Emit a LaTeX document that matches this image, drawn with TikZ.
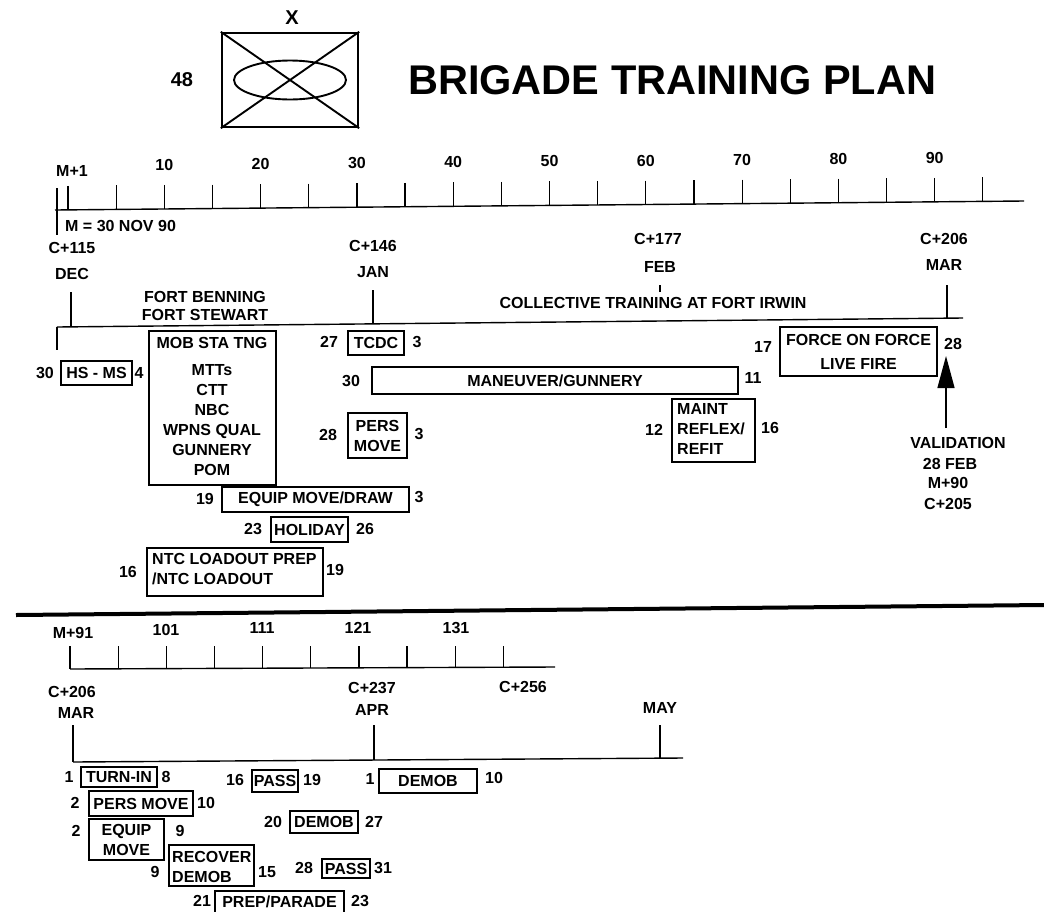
\documentclass[tikz,border=0pt]{standalone}
\usepackage{fontspec}
\setmainfont{Liberation Sans}
\usetikzlibrary{arrows.meta}
\begin{document}
\begin{tikzpicture}[x=1pt,y=-1pt,
  lbl/.style={font=\fontsize{16}{20}\selectfont\bfseries, inner sep=0pt},
  tb/.style={draw, line width=1.2pt, inner sep=0pt, font=\fontsize{16}{20}\selectfont\bfseries},
  ax/.style={line width=1.4pt},
  tk/.style={line width=1.2pt},
]
\useasboundingbox[fill=white] (0,0) rectangle (1044,911);

% ---------- header ----------
\node[draw, line width=2.4pt, minimum width=136pt, minimum height=94pt, inner sep=0pt] (emb) at (290,80) {};
\draw[line width=1.9pt] (emb.north west) -- (emb.south east) (emb.north east) -- (emb.south west);
\draw[line width=1.9pt] (emb.center) ellipse [x radius=56pt, y radius=19.5pt];
\node[lbl, font=\fontsize{20}{24}\selectfont\bfseries] (xx) at (292,18) {X};
\node[lbl, font=\fontsize{20}{24}\selectfont\bfseries] (n48) at (182,80) {48};
\node[font=\fontsize{41.5}{48}\selectfont\bfseries, inner sep=0pt, anchor=west] (title) at (408,80) {BRIGADE TRAINING PLAN};

% ---------- top scale (slightly tilted, as scanned) ----------
\draw[ax] (55,210) -- (1024,201);
\foreach \k in {0,...,19}{
  \pgfmathsetmacro{\xx}{68+48.15*\k}
  \pgfmathsetmacro{\yb}{210-9*(\xx-55)/969}
  \draw[tk] (\xx,\yb-24) -- (\xx,\yb);
}
\draw[tk] (57,188) -- (57,235);
\node[lbl] (m1) at (72,171) {M+1};
\foreach \k/\v in {2/10,4/20,6/30,8/40,10/50,12/60,14/70,16/80,18/90}{
  \pgfmathsetmacro{\xx}{68+48.15*\k}
  \pgfmathsetmacro{\yl}{210-9*(\xx-55)/969-44}
  \node[lbl] (t\v) at (\xx,\yl) {\v};
}
\node[lbl, anchor=west] (mdef) at (65,226) {M = 30 NOV 90};

\node[lbl] (c115) at (72,248) {C+115};
\node[lbl] (dec) at (72,274) {DEC};
\node[lbl] (c146) at (373,246) {C+146};
\node[lbl] (jan) at (373,272) {JAN};
\node[lbl] (c177) at (658,239) {C+177};
\node[lbl] (feb) at (660,267) {FEB};
\node[lbl] (c206) at (944,239) {C+206};
\node[lbl] (mar) at (944,265) {MAR};

\draw[ax] (57,327) -- (963,318);
\draw[tk] (57,327) -- (57,350);
\draw[tk] (71,292) -- (71,326.9);
\draw[tk] (373,290) -- (373,323.9);
\draw[tk] (660,285) -- (660,292);
\draw[tk] (947,285) -- (947,318.2);
\node[lbl] (fb) at (205,297) {FORT BENNING};
\node[lbl] (fs) at (205,315) {FORT STEWART};
\node[lbl] (coll) at (653,303) {COLLECTIVE TRAINING AT FORT IRWIN};

% ---------- top activities ----------
\node[tb, minimum width=71pt, minimum height=24pt] (hsms) at (96.5,373) {HS - MS};
\node[lbl] (hsmsa) at (45,373) {30};
\node[lbl] (hsmsb) at (139,373) {4};

\node[tb, minimum width=127pt, minimum height=154pt] (mob) at (212.5,408) {};
\node[lbl, align=center, anchor=north] (mobtxt) at (212,337) {MOB STA TNG\\[7pt]MTTs\\CTT\\NBC\\WPNS QUAL\\GUNNERY\\POM};

\node[tb, minimum width=56pt, minimum height=24pt] (tcdc) at (376,343) {TCDC};
\node[lbl] (tcdca) at (329,342) {27};
\node[lbl] (tcdcb) at (417,342) {3};

\node[tb, minimum width=366pt, minimum height=27pt] (man) at (555,380.5) {MANEUVER/GUNNERY};
\node[lbl] (mana) at (351,381) {30};
\node[lbl] (manb) at (753,378) {11};

\node[tb, minimum width=59pt, minimum height=45pt, align=center] (pers) at (377.5,435.5) {PERS\\MOVE};
\node[lbl] (persa) at (328,435) {28};
\node[lbl] (persb) at (419,434) {3};

\node[tb, minimum width=83pt, minimum height=63pt] (maint) at (713.5,430.5) {};
\node[lbl, align=left, anchor=north west] (mainttxt) at (677,403) {MAINT\\REFLEX/\\REFIT};
\node[lbl] (mainta) at (654,430) {12};
\node[lbl] (maintb) at (770,428) {16};

\node[tb, minimum width=157pt, minimum height=49pt, align=center, font=\fontsize{16}{24}\selectfont\bfseries] (force) at (858.5,351.5) {FORCE ON FORCE\\LIVE FIRE};
\node[lbl] (forcea) at (763,347) {17};
\node[lbl] (forceb) at (953,344) {28};

\node[lbl] (valid) at (958,443) {VALIDATION};
\node[lbl] (v28) at (950,464) {28 FEB};
\node[lbl] (vm90) at (948,483) {M+90};
\node[lbl] (vc205) at (948,504) {C+205};
\coordinate (vtip) at (946,356);
\coordinate (vfoot) at (946,428);
\draw[line width=1.3pt, -{Triangle[width=17pt,length=32pt]}] (vfoot) -- (vtip);

\node[tb, minimum width=187pt, minimum height=25pt] (equip) at (315.5,499.5) {EQUIP MOVE/DRAW};
\node[lbl] (equipa) at (205,499) {19};
\node[lbl] (equipb) at (419,497) {3};

\node[tb, minimum width=77pt, minimum height=25pt] (hol) at (309.5,529.5) {HOLIDAY};
\node[lbl] (hola) at (253,529) {23};
\node[lbl] (holb) at (365,529) {26};

\node[tb, minimum width=176pt, minimum height=48pt] (ntc) at (235,572) {};
\node[lbl, align=left, anchor=north west] (ntctxt) at (152,553) {NTC LOADOUT PREP\\/NTC LOADOUT};
\node[lbl] (ntca) at (128,572) {16};
\node[lbl] (ntcb) at (335,570) {19};

% ---------- separator ----------
\draw[line width=4pt] (16,615) -- (1044,605);

% ---------- bottom scale ----------
\draw[ax] (70,669) -- (555,667);
\foreach \k in {0,...,9}{
  \pgfmathsetmacro{\xx}{70+48.15*\k}
  \pgfmathsetmacro{\yb}{669-2*(\xx-70)/485}
  \draw[tk] (\xx,646) -- (\xx,\yb);
}
\node[lbl] (m91) at (73,633) {M+91};
\node[lbl] (b101) at (166,630) {101};
\node[lbl] (b111) at (262,628) {111};
\node[lbl] (b121) at (358,628) {121};
\node[lbl] (b131) at (456,628) {131};

\node[lbl] (bc206) at (72,692) {C+206};
\node[lbl] (bmar) at (76,713) {MAR};
\node[lbl] (bc237) at (372,688) {C+237};
\node[lbl] (bapr) at (372,710) {APR};
\node[lbl] (bc256) at (523,687) {C+256};
\node[lbl] (bmay) at (660,708) {MAY};

\draw[ax] (73,762) -- (683,758);
\draw[tk] (73,725) -- (73,762);
\draw[tk] (374,725) -- (374,760);
\draw[tk] (660,725) -- (660,758.2);

% ---------- bottom activities ----------
\node[tb, minimum width=76pt, minimum height=20pt] (turn) at (119,777) {TURN-IN};
\node[lbl] (turna) at (69,777) {1};
\node[lbl] (turnb) at (166,777) {8};

\node[tb, minimum width=46pt, minimum height=22pt] (pass1) at (275,781) {PASS};
\node[lbl] (pass1a) at (235,780) {16};
\node[lbl] (pass1b) at (312,780) {19};

\node[tb, minimum width=98pt, minimum height=24pt] (demob1) at (428,781) {DEMOB};
\node[lbl] (demob1a) at (370,779) {1};
\node[lbl] (demob1b) at (494,778) {10};

\node[tb, minimum width=104pt, minimum height=25pt] (pm2) at (141,803.5) {PERS MOVE};
\node[lbl] (pm2a) at (75,803) {2};
\node[lbl] (pm2b) at (206,803) {10};

\node[tb, minimum width=68pt, minimum height=22pt] (demob2) at (324,822) {DEMOB};
\node[lbl] (demob2a) at (273,822) {20};
\node[lbl] (demob2b) at (374,822) {27};

\node[tb, minimum width=75pt, minimum height=41pt, align=center] (em) at (126.5,839.5) {EQUIP\\MOVE};
\node[lbl] (ema) at (76,831) {2};
\node[lbl] (emb9) at (180,831) {9};

\node[tb, minimum width=85pt, minimum height=41pt] (rec) at (211.5,865.5) {};
\node[lbl, align=left, anchor=north west] (rectxt) at (172,851) {RECOVER\\DEMOB};
\node[lbl] (reca) at (155,872) {9};
\node[lbl] (recb) at (267,872) {15};

\node[tb, minimum width=48pt, minimum height=19pt] (pass2) at (346,868.5) {PASS};
\node[lbl] (pass2a) at (304,868) {28};
\node[lbl] (pass2b) at (383,868) {31};

\node[tb, minimum width=129pt, minimum height=22pt] (prep) at (279.5,902) {PREP/PARADE};
\node[lbl] (prepa) at (202,901) {21};
\node[lbl] (prepb) at (360,901) {23};
\end{tikzpicture}
\end{document}
